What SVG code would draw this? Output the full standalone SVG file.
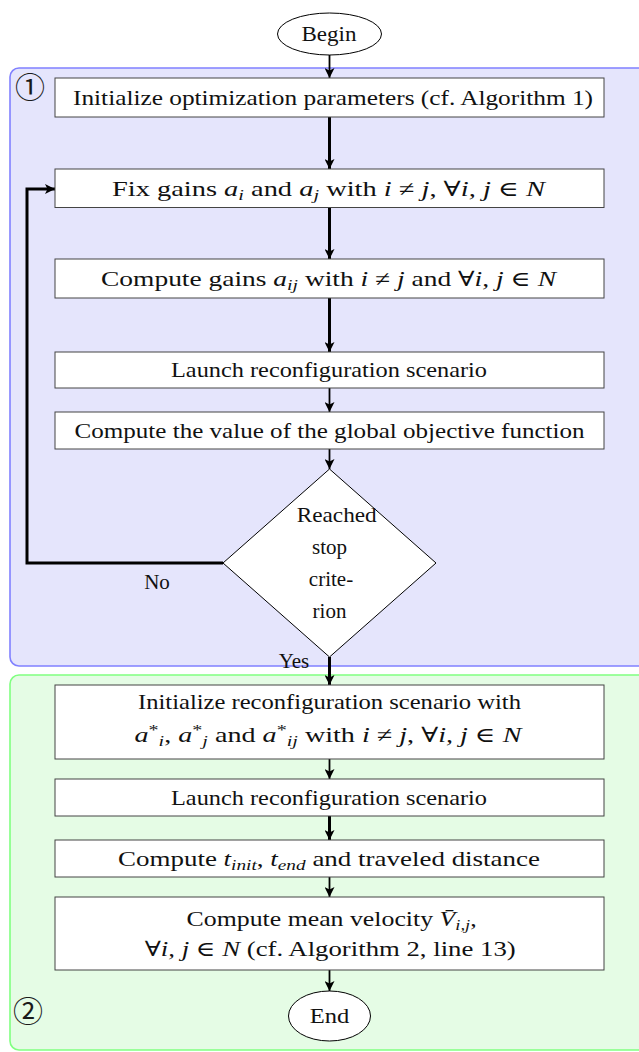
<svg xmlns="http://www.w3.org/2000/svg" width="639" height="1052" viewBox="0 0 639 1052">
<style>
.t{font-family:"Liberation Serif","DejaVu Serif",serif;font-size:21px;fill:#111}
.m{font-style:italic}
.s{font-size:15px}
.box{fill:#fff;stroke:#444;stroke-width:1}
.ar{fill:none;stroke:#000;stroke-width:1.8}
.tk{fill:none;stroke:#000;stroke-width:3}
.circ{font-family:"DejaVu Serif","Noto Sans CJK JP",serif;font-size:30px;fill:#1a1a1a}
</style>
<defs>
<marker id="ah" markerUnits="userSpaceOnUse" markerWidth="12" markerHeight="10" refX="10" refY="5" orient="auto">
<path d="M0,0 L10,5 L0,10 L2.5,5 z" fill="#000"/>
</marker>
</defs>
<g id="region1">
<rect x="10" y="68" width="650" height="598" rx="9" fill="#e5e5fc" stroke="#8080ff" stroke-width="1.6"/>
<text class="circ" x="30" y="98" text-anchor="middle">①</text>
</g>
<g id="region2">
<rect x="10" y="675" width="650" height="375" rx="9" fill="#e5fce5" stroke="#80ff80" stroke-width="1.6"/>
<text class="circ" x="28" y="1022" text-anchor="middle">②</text>
</g>
<g id="connectors">
<line class="ar" x1="329.5" y1="55" x2="329.5" y2="78" marker-end="url(#ah)"/>
<line class="tk" x1="329.5" y1="117" x2="329.5" y2="169" marker-end="url(#ah)"/>
<line class="tk" x1="329.5" y1="207.5" x2="329.5" y2="259" marker-end="url(#ah)"/>
<line class="tk" x1="329.5" y1="298" x2="329.5" y2="352" marker-end="url(#ah)"/>
<line class="ar" x1="329.5" y1="388" x2="329.5" y2="412" marker-end="url(#ah)"/>
<line class="ar" x1="329.5" y1="449" x2="329.5" y2="469" marker-end="url(#ah)"/>
<polyline class="tk" points="223,563 27,563 27,189 55,189" marker-end="url(#ah)"/>
<line class="tk" x1="329.5" y1="657" x2="329.5" y2="685" marker-end="url(#ah)"/>
<line class="ar" x1="329.5" y1="759" x2="329.5" y2="779" marker-end="url(#ah)"/>
<line class="tk" x1="329.5" y1="816" x2="329.5" y2="840" marker-end="url(#ah)"/>
<line class="ar" x1="329.5" y1="877" x2="329.5" y2="897" marker-end="url(#ah)"/>
<line class="ar" x1="329.5" y1="970" x2="329.5" y2="991" marker-end="url(#ah)"/>
<text class="t" x="157" y="589" text-anchor="middle">No</text>
<text class="t" x="294" y="668" text-anchor="middle">Yes</text>
</g>
<g id="begin">
<ellipse cx="329.5" cy="34" rx="52" ry="21" fill="#fff" stroke="#000" stroke-width="1"/>
<text class="t" x="301.5" y="41" textLength="55" lengthAdjust="spacingAndGlyphs">Begin</text>
</g>
<g id="init">
<rect class="box" x="55" y="78" width="549" height="39"/>
<text class="t" x="73" y="104.5" textLength="520" lengthAdjust="spacingAndGlyphs">Initialize optimization parameters (cf. Algorithm 1)</text>
</g>
<g id="fix">
<rect class="box" x="55" y="169" width="549" height="38.5"/>
<text class="t" x="112" y="195.5" textLength="433" lengthAdjust="spacingAndGlyphs">Fix gains <tspan class="m">a</tspan><tspan class="s m" dy="4">i</tspan><tspan dy="-4"> and </tspan><tspan class="m">a</tspan><tspan class="s m" dy="4">j</tspan><tspan dy="-4"> with </tspan><tspan class="m">i</tspan> ≠ <tspan class="m">j</tspan>, ∀<tspan class="m">i, j</tspan> ∈ <tspan class="m">N</tspan></text>
</g>
<g id="compute_gains">
<rect class="box" x="55" y="259" width="549" height="39"/>
<text class="t" x="101" y="285.5" textLength="455" lengthAdjust="spacingAndGlyphs">Compute gains <tspan class="m">a</tspan><tspan class="s m" dy="4">ij</tspan><tspan dy="-4"> with </tspan><tspan class="m">i</tspan> ≠ <tspan class="m">j</tspan> and ∀<tspan class="m">i, j</tspan> ∈ <tspan class="m">N</tspan></text>
</g>
<g id="launch1">
<rect class="box" x="55" y="352" width="549" height="36"/>
<text class="t" x="171" y="377" textLength="316" lengthAdjust="spacingAndGlyphs">Launch reconfiguration scenario</text>
</g>
<g id="objective">
<rect class="box" x="55" y="412" width="549" height="37"/>
<text class="t" x="74.6" y="437.5" textLength="510" lengthAdjust="spacingAndGlyphs">Compute the value of the global objective function</text>
</g>
<g id="decision">
<polygon points="329.5,469 436,563 329.5,657 223,563" fill="#fff" stroke="#000" stroke-width="1"/>
<text class="t" x="296.7" y="522" textLength="80" lengthAdjust="spacingAndGlyphs">Reached</text>
<text class="t" x="329.5" y="554" text-anchor="middle">stop</text>
<text class="t" x="331" y="586" text-anchor="middle">crite-</text>
<text class="t" x="329.5" y="618" text-anchor="middle">rion</text>
</g>
<g id="init_reconf">
<rect class="box" x="55" y="685" width="549" height="74"/>
<text class="t" x="138" y="709" textLength="383" lengthAdjust="spacingAndGlyphs">Initialize reconfiguration scenario with</text>
<text class="t" x="134.5" y="742" textLength="387" lengthAdjust="spacingAndGlyphs"><tspan class="m">a</tspan><tspan class="s" dy="-7">*</tspan><tspan class="s m" dy="11">i</tspan><tspan dy="-4">, </tspan><tspan class="m">a</tspan><tspan class="s" dy="-7">*</tspan><tspan class="s m" dy="11">j</tspan><tspan dy="-4"> and </tspan><tspan class="m">a</tspan><tspan class="s" dy="-7">*</tspan><tspan class="s m" dy="11">ij</tspan><tspan dy="-4"> with </tspan><tspan class="m">i</tspan> ≠ <tspan class="m">j</tspan>, ∀<tspan class="m">i, j</tspan> ∈ <tspan class="m">N</tspan></text>
</g>
<g id="launch2">
<rect class="box" x="55" y="779" width="549" height="37"/>
<text class="t" x="171" y="804.5" textLength="316" lengthAdjust="spacingAndGlyphs">Launch reconfiguration scenario</text>
</g>
<g id="times">
<rect class="box" x="55" y="840" width="549" height="37"/>
<text class="t" x="118" y="865.5" textLength="422" lengthAdjust="spacingAndGlyphs">Compute <tspan class="m">t</tspan><tspan class="s m" dy="4">init</tspan><tspan dy="-4">, </tspan><tspan class="m">t</tspan><tspan class="s m" dy="4">end</tspan><tspan dy="-4"> and traveled distance</tspan></text>
</g>
<g id="velocity">
<rect class="box" x="55" y="897" width="549" height="73"/>
<text class="t" x="186.6" y="926" textLength="290" lengthAdjust="spacingAndGlyphs">Compute mean velocity <tspan class="m">V̄</tspan><tspan class="s m" dy="4">i,j</tspan><tspan dy="-4">,</tspan></text>
<text class="t" x="144.7" y="956" textLength="371" lengthAdjust="spacingAndGlyphs">∀<tspan class="m">i, j</tspan> ∈ <tspan class="m">N</tspan> (cf. Algorithm 2, line 13)</text>
</g>
<g id="end">
<ellipse cx="329.5" cy="1016" rx="41" ry="25" fill="#fff" stroke="#000" stroke-width="1"/>
<text class="t" x="309.7" y="1023" textLength="39.5" lengthAdjust="spacingAndGlyphs">End</text>
</g>
</svg>
